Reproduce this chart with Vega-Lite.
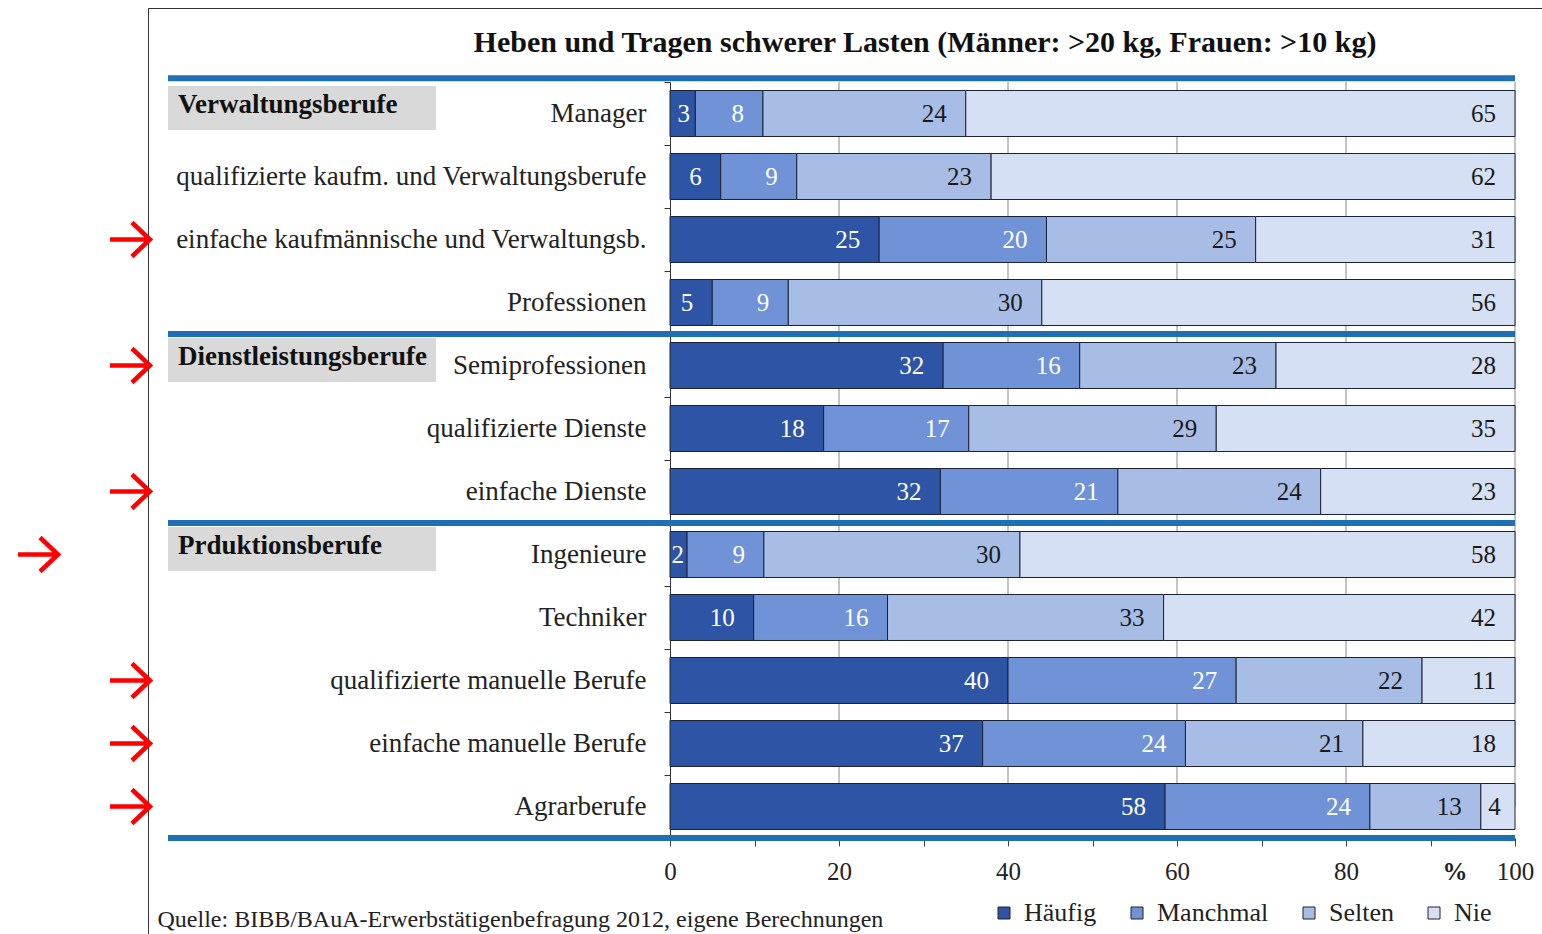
{
  "$schema": "https://vega.github.io/schema/vega-lite/v6.json",
  "width": 1394,
  "height": 926,
  "autosize": {"type": "none"},
  "padding": {"left": 148, "top": 8, "right": 0, "bottom": 0},
  "background": "white",
  "config": {
    "font": "Liberation Serif",
    "view": {"stroke": "#333", "strokeWidth": 1, "strokeDash": [1394, 2320, 926]}
  },
  "title": {
    "text": "Heben und Tragen schwerer Lasten (Männer: >20 kg, Frauen: >10 kg)",
    "font": "Liberation Serif",
    "fontSize": 30,
    "fontWeight": "bold",
    "color": "#111",
    "anchor": "middle",
    "dx": 80,
    "offset": -64
  },
  "datasets": {
    "main": [
      {"job": "Manager", "k": "Häufig", "v": 3},
      {"job": "Manager", "k": "Manchmal", "v": 8},
      {"job": "Manager", "k": "Selten", "v": 24},
      {"job": "Manager", "k": "Nie", "v": 65},
      {"job": "qualifizierte kaufm. und Verwaltungsberufe", "k": "Häufig", "v": 6},
      {"job": "qualifizierte kaufm. und Verwaltungsberufe", "k": "Manchmal", "v": 9},
      {"job": "qualifizierte kaufm. und Verwaltungsberufe", "k": "Selten", "v": 23},
      {"job": "qualifizierte kaufm. und Verwaltungsberufe", "k": "Nie", "v": 62},
      {"job": "einfache kaufmännische und Verwaltungsb.", "k": "Häufig", "v": 25},
      {"job": "einfache kaufmännische und Verwaltungsb.", "k": "Manchmal", "v": 20},
      {"job": "einfache kaufmännische und Verwaltungsb.", "k": "Selten", "v": 25},
      {"job": "einfache kaufmännische und Verwaltungsb.", "k": "Nie", "v": 31},
      {"job": "Professionen", "k": "Häufig", "v": 5},
      {"job": "Professionen", "k": "Manchmal", "v": 9},
      {"job": "Professionen", "k": "Selten", "v": 30},
      {"job": "Professionen", "k": "Nie", "v": 56},
      {"job": "Semiprofessionen", "k": "Häufig", "v": 32},
      {"job": "Semiprofessionen", "k": "Manchmal", "v": 16},
      {"job": "Semiprofessionen", "k": "Selten", "v": 23},
      {"job": "Semiprofessionen", "k": "Nie", "v": 28},
      {"job": "qualifizierte Dienste", "k": "Häufig", "v": 18},
      {"job": "qualifizierte Dienste", "k": "Manchmal", "v": 17},
      {"job": "qualifizierte Dienste", "k": "Selten", "v": 29},
      {"job": "qualifizierte Dienste", "k": "Nie", "v": 35},
      {"job": "einfache Dienste", "k": "Häufig", "v": 32},
      {"job": "einfache Dienste", "k": "Manchmal", "v": 21},
      {"job": "einfache Dienste", "k": "Selten", "v": 24},
      {"job": "einfache Dienste", "k": "Nie", "v": 23},
      {"job": "Ingenieure", "k": "Häufig", "v": 2},
      {"job": "Ingenieure", "k": "Manchmal", "v": 9},
      {"job": "Ingenieure", "k": "Selten", "v": 30},
      {"job": "Ingenieure", "k": "Nie", "v": 58},
      {"job": "Techniker", "k": "Häufig", "v": 10},
      {"job": "Techniker", "k": "Manchmal", "v": 16},
      {"job": "Techniker", "k": "Selten", "v": 33},
      {"job": "Techniker", "k": "Nie", "v": 42},
      {"job": "qualifizierte manuelle Berufe", "k": "Häufig", "v": 40},
      {"job": "qualifizierte manuelle Berufe", "k": "Manchmal", "v": 27},
      {"job": "qualifizierte manuelle Berufe", "k": "Selten", "v": 22},
      {"job": "qualifizierte manuelle Berufe", "k": "Nie", "v": 11},
      {"job": "einfache manuelle Berufe", "k": "Häufig", "v": 37},
      {"job": "einfache manuelle Berufe", "k": "Manchmal", "v": 24},
      {"job": "einfache manuelle Berufe", "k": "Selten", "v": 21},
      {"job": "einfache manuelle Berufe", "k": "Nie", "v": 18},
      {"job": "Agrarberufe", "k": "Häufig", "v": 58},
      {"job": "Agrarberufe", "k": "Manchmal", "v": 24},
      {"job": "Agrarberufe", "k": "Selten", "v": 13},
      {"job": "Agrarberufe", "k": "Nie", "v": 4}
    ],
    "groups": [
      {"job": "Manager", "g": "Verwaltungsberufe"},
      {"job": "Semiprofessionen", "g": "Dienstleistungsberufe"},
      {"job": "Ingenieure", "g": "Prduktionsberufe"}
    ],
    "seps": [
      {"job": "Semiprofessionen"},
      {"job": "Ingenieure"}
    ],
    "arrows": [
      {"job": "einfache kaufmännische und Verwaltungsb."},
      {"job": "Semiprofessionen"},
      {"job": "einfache Dienste"},
      {"job": "qualifizierte manuelle Berufe"},
      {"job": "einfache manuelle Berufe"},
      {"job": "Agrarberufe"}
    ],
    "arrowsFar": [
      {"job": "Ingenieure"}
    ],
    "grid": [{"g": 0.2}, {"g": 0.4}, {"g": 0.6}, {"g": 0.8}, {"g": 1}],
    "one": [{"job": "Manager"}],
    "last": [{"job": "Agrarberufe"}]
  },
  "layer": [
    {
      "data": {"name": "grid"},
      "mark": {"type": "rule", "color": "#888", "strokeWidth": 1},
      "encoding": {
        "x": {"field": "g", "type": "quantitative"},
        "y": {"datum": "Manager", "bandPosition": 0},
        "y2": {"datum": "Agrarberufe"}
      }
    },
    {
      "data": {"name": "main"},
      "transform": [
        {"stack": "v", "groupby": ["job"], "offset": "normalize", "as": ["x0", "x1"]}
      ],
      "mark": {"type": "bar", "height": {"band": 0.73}, "stroke": "#1c2235", "strokeWidth": 1},
      "encoding": {
        "x": {
          "field": "x0",
          "type": "quantitative",
          "scale": {"domain": [0, 1], "range": [522, 1367], "nice": false, "zero": false},
          "axis": {
            "values": [0, 0.1, 0.2, 0.3, 0.4, 0.5, 0.6, 0.7, 0.8, 0.9, 1],
            "labelExpr": "round(datum.value*100) % 20 == 0 ? format(datum.value*100, 'd') : (round(datum.value*100) == 90 ? '%' : '')",
            "offset": -96,
            "domain": false,
            "grid": false,
            "ticks": true,
            "tickSize": 8,
            "tickColor": "#444",
            "labelFont": "Liberation Serif",
            "labelFontSize": 25,
            "labelColor": "#222",
            "labelPadding": 13,
            "labelFlush": false,
            "labelOverlap": false,
            "labelFontWeight": {"condition": {"test": "round(datum.value*100) == 90", "value": "bold"}, "value": "normal"},
            "labelOffset": {"condition": {"test": "round(datum.value*100) == 90", "value": 24}, "value": 0},
            "title": "Quelle: BIBB/BAuA-Erwerbstätigenbefragung 2012, eigene Berechnungen",
            "titleX": 9,
            "titleY": 88,
            "titleAlign": "left",
            "titleAnchor": "start",
            "titleBaseline": "alphabetic",
            "titleFont": "Liberation Serif",
            "titleFontSize": 24,
            "titleFontWeight": "normal",
            "titleColor": "#222"
          }
        },
        "x2": {"field": "x1"},
        "y": {
          "field": "job",
          "type": "nominal",
          "scale": {
            "domain": ["Manager", "qualifizierte kaufm. und Verwaltungsberufe", "einfache kaufmännische und Verwaltungsb.", "Professionen", "Semiprofessionen", "qualifizierte Dienste", "einfache Dienste", "Ingenieure", "Techniker", "qualifizierte manuelle Berufe", "einfache manuelle Berufe", "Agrarberufe"],
            "range": [74, 830],
            "paddingInner": 0,
            "paddingOuter": 0
          },
          "axis": {
            "title": null,
            "orient": "left",
            "offset": -522,
            "domain": true,
            "domainColor": "#333",
            "ticks": true,
            "tickBand": "extent",
            "tickSize": 6,
            "tickColor": "#333",
            "grid": false,
            "labelFont": "Liberation Serif",
            "labelFontSize": 27,
            "labelColor": "#222",
            "labelPadding": 18,
            "labelLimit": 700
          }
        },
        "color": {
          "field": "k",
          "type": "nominal",
          "scale": {"domain": ["Häufig", "Manchmal", "Selten", "Nie"], "range": ["#2e55a5", "#7092d6", "#a8bde6", "#d6e0f4"]},
          "legend": {
            "orient": "none",
            "legendX": 843,
            "legendY": 892,
            "direction": "horizontal",
            "title": null,
            "symbolType": "square",
            "symbolSize": 144,
            "symbolStrokeColor": "#222",
            "symbolStrokeWidth": 1,
            "labelFont": "Liberation Serif",
            "labelFontSize": 26,
            "labelColor": "#222",
            "columnPadding": 27,
            "labelOffset": 7,
            "padding": 0
          }
        }
      }
    },
    {
      "data": {"name": "main"},
      "transform": [
        {"stack": "v", "groupby": ["job"], "offset": "normalize", "as": ["x0", "x1"]}
      ],
      "mark": {
        "type": "text",
        "align": "right",
        "baseline": "middle",
        "font": "Liberation Serif",
        "fontSize": 25,
        "dx": {"expr": "-min(19, max(3, (datum.x1 - datum.x0) * 845 - 20))"}
      },
      "encoding": {
        "x": {"field": "x1", "type": "quantitative"},
        "y": {"field": "job", "type": "nominal"},
        "text": {"field": "v", "type": "quantitative"},
        "color": {"condition": {"test": "datum.k == 'Häufig' || datum.k == 'Manchmal'", "value": "#ffffff"}, "value": "#1a1a1a"}
      }
    },
    {
      "data": {"name": "groups"},
      "mark": {"type": "bar", "color": "#d9d9d9", "height": {"band": 0.7}, "yOffset": -5.5},
      "encoding": {
        "x": {"datum": -0.5941},
        "x2": {"datum": -0.2769},
        "y": {"field": "job", "type": "nominal"}
      }
    },
    {
      "data": {"name": "groups"},
      "mark": {"type": "text", "align": "left", "baseline": "middle", "font": "Liberation Serif", "fontSize": 27, "fontWeight": "bold", "color": "#111", "dy": -8.5},
      "encoding": {
        "x": {"datum": -0.5822},
        "y": {"field": "job", "type": "nominal"},
        "text": {"field": "g"}
      }
    },
    {
      "data": {"name": "one"},
      "mark": {"type": "rule", "color": "#1f6fb5", "strokeWidth": 6},
      "encoding": {
        "x": {"datum": -0.5941},
        "x2": {"datum": 1},
        "y": {"field": "job", "type": "nominal", "bandPosition": -0.06}
      }
    },
    {
      "data": {"name": "seps"},
      "mark": {"type": "rule", "color": "#1f6fb5", "strokeWidth": 6},
      "encoding": {
        "x": {"datum": -0.5941},
        "x2": {"datum": 1},
        "y": {"field": "job", "type": "nominal", "bandPosition": 0}
      }
    },
    {
      "data": {"name": "last"},
      "mark": {"type": "rule", "color": "#1f6fb5", "strokeWidth": 6},
      "encoding": {
        "x": {"datum": -0.5941},
        "x2": {"datum": 1},
        "y": {"field": "job", "type": "nominal", "bandPosition": 1}
      }
    },
    {
      "data": {"name": "arrows"},
      "mark": {"type": "point", "shape": "M-1,0L0.95,0M0.1,-0.85L1,0L0.1,0.85", "size": 1600, "filled": false, "stroke": "#ff0000", "strokeWidth": 4.5, "opacity": 1},
      "encoding": {
        "x": {"datum": -0.6391},
        "y": {"field": "job", "type": "nominal"}
      }
    },
    {
      "data": {"name": "arrowsFar"},
      "mark": {"type": "point", "shape": "M-1,0L0.95,0M0.1,-0.85L1,0L0.1,0.85", "size": 1600, "filled": false, "stroke": "#ff0000", "strokeWidth": 4.5, "opacity": 1},
      "encoding": {
        "x": {"datum": -0.7479},
        "y": {"field": "job", "type": "nominal"}
      }
    }
  ]
}
